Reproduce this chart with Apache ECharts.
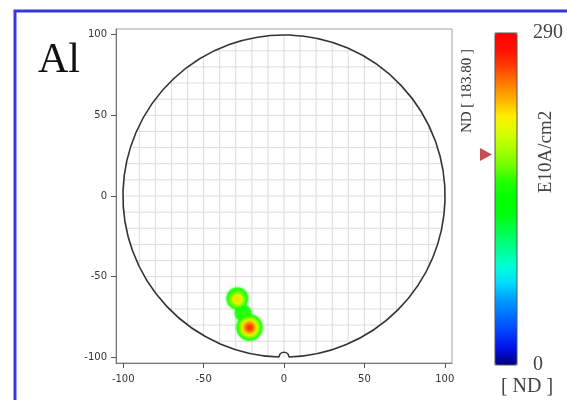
<!DOCTYPE html>
<html>
<head>
<meta charset="utf-8">
<script src="https://cdn.jsdelivr.net/npm/echarts@6/dist/echarts.min.js"></script>
<style>
html,body{margin:0;padding:0;background:#fff;}
#chart{width:567px;height:400px;}
</style>
</head>
<body>
<div id="chart"></div>
<script>
// ---- data ----
var axisTicks = [-100, -50, 0, 50, 100];
var waferRadius = 100;
var notchRadius = 3;
var dieGridX = [-90, -80, -70, -60, -50, -40, -30, -20, -10, 0, 10, 20, 30, 40, 50, 60, 70, 80, 90];
var dieGridY = [-90, -80, -70, -60, -50, -40, -30, -20, -10, 0, 10, 20, 30, 40, 50, 60, 70, 80, 90];
// defect density contour rings, ascending value
var spotX      = [-29,  -25.5, -21.5, -29,  -21.5, -29,  -21.5, -29,  -21.5, -21.5, -21.5];
var spotY      = [-63.5,-72.5, -81.5, -64,  -81.5, -64,  -81.5, -64,  -81.5, -81.5, -81.5];
var spotValue  = [155,  155,   155,   180,  182,   205,  210,   222,  235,   252,   264];
var spotRadius = [6.8,  5.2,   8.2,   4.8,  6.5,   3.3,  5.2,   1.8,  3.8,   2.6,   1.5];
var scaleMin = 0;
var scaleMax = 290;
var scaleLabels = [0, 290];
var ndValue = 183.80;
var waferName = 'Al';
var unitName = 'E10A/cm2';
var ndText = '[ ND ]';

var colorStops = ['#000080','#0010e8','#0040ff','#0070ff','#00a0ff','#00e0ff','#00ffd0','#00ff90','#00ff50','#00ff10','#00ff00','#20ff00','#70ff00','#a8ff00','#d8ff00','#ffee00','#ffb000','#ff7800','#ff3c00','#ff1000','#ff0000'];

var gridLineData = dieGridX.map(function (v) { return [v, 0]; })
  .concat(dieGridY.map(function (v) { return [v, 1]; }));
var spotData = spotX.map(function (x, i) { return [x, spotY[i], spotValue[i], spotRadius[i]]; });

var chart = echarts.init(document.getElementById('chart'));
var labelFont = { fontFamily: 'DejaVu Sans', fontSize: 10, color: '#333' };

var option = {
  backgroundColor: '#ffffff',
  animation: false,
  grid: [
    { left: 116, top: 29, width: 336, height: 334, show: true, borderColor: '#a0a0a0', borderWidth: 1, backgroundColor: 'transparent' },
    { left: 495, top: 33, width: 22, height: 332, show: true, borderColor: '#555', borderWidth: 1, z: 10, backgroundColor: 'transparent' }
  ],
  xAxis: [
    { type: 'value', gridIndex: 0, min: -104.5, max: 104.5,
      axisLine: { show: true, onZero: false, lineStyle: { color: '#777' } },
      axisTick: { show: true, inside: false, length: 5, customValues: axisTicks, lineStyle: { color: '#555' } },
      axisLabel: Object.assign({ customValues: axisTicks, margin: 11 }, labelFont),
      splitLine: { show: false } },
    { type: 'value', gridIndex: 1, min: 0, max: 1, show: false }
  ],
  yAxis: [
    { type: 'value', gridIndex: 0, min: -103.5, max: 103.5,
      axisLine: { show: true, onZero: false, lineStyle: { color: '#777' } },
      axisTick: { show: true, inside: false, length: 5, customValues: axisTicks, lineStyle: { color: '#555' } },
      axisLabel: Object.assign({ customValues: axisTicks, margin: 9 }, labelFont),
      splitLine: { show: false } },
    { type: 'value', gridIndex: 1, min: scaleMin, max: scaleMax, position: 'right',
      axisLine: { show: false }, axisTick: { show: false }, splitLine: { show: false },
      axisLabel: { customValues: scaleLabels, margin: 16, fontFamily: 'Liberation Serif', fontSize: 20, color: '#444' } }
  ],
  visualMap: {
    type: 'continuous', min: scaleMin, max: scaleMax, dimension: 2, seriesIndex: 2,
    calculable: false, left: 495, top: 33, itemWidth: 22, itemHeight: 332, padding: 0,
    text: null, showLabel: false, inRange: { color: colorStops }
  },
  series: [
    { // die grid, clipped to wafer
      type: 'custom', xAxisIndex: 0, yAxisIndex: 0, data: gridLineData, silent: true, z: 1,
      encode: { x: 0 },
      renderItem: function (params, api) {
        var v = api.value(0), o = api.value(1);
        var h = Math.sqrt(waferRadius * waferRadius - v * v);
        var p1 = o === 0 ? api.coord([v, -h]) : api.coord([-h, v]);
        var p2 = o === 0 ? api.coord([v, h]) : api.coord([h, v]);
        return { type: 'line', shape: { x1: p1[0], y1: p1[1], x2: p2[0], y2: p2[1] },
                 style: { stroke: '#dcdcdc', lineWidth: 1 } };
      }
    },
    { // wafer outline with notch
      type: 'custom', xAxisIndex: 0, yAxisIndex: 0, data: [[0, 0, waferRadius]], silent: true, z: 3,
      renderItem: function (params, api) {
        var c = api.coord([0, 0]);
        var s = api.size([api.value(2), api.value(2)]);
        var r = (s[0] + s[1]) / 2;
        var nr = api.size([notchRadius, notchRadius])[0];
        var a = Math.asin(notchRadius / waferRadius);
        return { type: 'group', children: [
          { type: 'arc', shape: { cx: c[0], cy: c[1], r: r, startAngle: Math.PI / 2 + a, endAngle: Math.PI / 2 - a + 2 * Math.PI, clockwise: true },
            style: { stroke: '#333', lineWidth: 1.6, fill: null } },
          { type: 'arc', shape: { cx: c[0], cy: c[1] + r, r: nr, startAngle: Math.PI, endAngle: 2 * Math.PI, clockwise: true },
            style: { stroke: '#333', lineWidth: 1.6, fill: null } }
        ] };
      }
    },
    { // defect density spots
      type: 'custom', xAxisIndex: 0, yAxisIndex: 0, data: spotData, z: 2,
      encode: { x: 0, y: 1 },
      renderItem: function (params, api) {
        var c = api.coord([api.value(0), api.value(1)]);
        var rr = api.size([api.value(3), api.value(3)]);
        var col = api.visual('color');
        return { type: 'ellipse', shape: { cx: c[0], cy: c[1], rx: rr[0], ry: rr[1] },
                 style: { fill: col, opacity: 0.75, shadowBlur: 3, shadowColor: col } };
      }
    },
    { // ND marker on colour scale
      type: 'scatter', xAxisIndex: 1, yAxisIndex: 1, data: [[0, ndValue]], silent: true,
      symbol: 'triangle', symbolSize: [13, 12], symbolRotate: -90, symbolOffset: [-9, 0],
      itemStyle: { color: '#b8202a' }, z: 12
    }
  ],
  graphic: [
    { type: 'rect', shape: { x: 15, y: 11, width: 600, height: 450 }, style: { fill: null, stroke: '#3636d9', lineWidth: 3 }, z: 100 },
    { type: 'text', left: 38, top: 40, style: { text: waferName, font: '42px "Liberation Serif"', fill: '#111' }, z: 100 },
    { type: 'text', x: 467, y: 91, rotation: Math.PI / 2,
      style: { text: 'ND [ ' + ndValue.toFixed(2) + ' ]', font: '15px "Liberation Serif"', fill: '#333', align: 'center', verticalAlign: 'middle' }, z: 100 },
    { type: 'text', x: 546, y: 152, rotation: Math.PI / 2,
      style: { text: unitName, font: '19px "Liberation Serif"', fill: '#444', align: 'center', verticalAlign: 'middle' }, z: 100 },
    { type: 'text', x: 527, y: 387, style: { text: ndText, font: '20px "Liberation Serif"', fill: '#444', align: 'center', verticalAlign: 'middle' }, z: 100 }
  ]
};
chart.setOption(option);
</script>
</body>
</html>
